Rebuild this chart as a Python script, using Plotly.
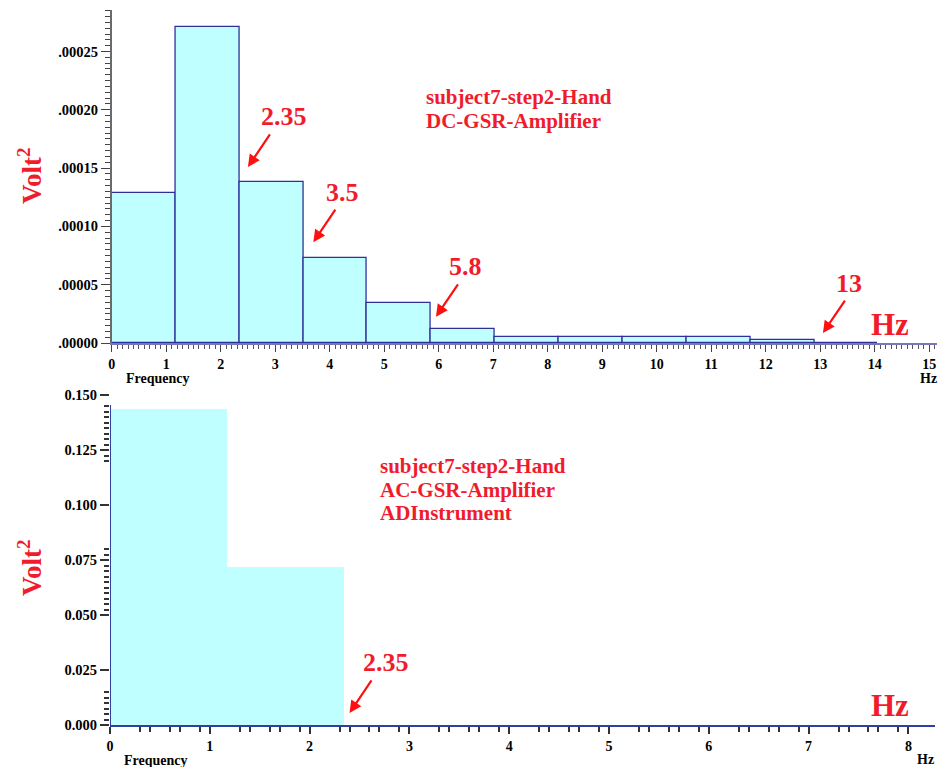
import plotly.graph_objects as go

# ---------------- data ----------------
BIN_WIDTH = 1.171875
dc_freq = [0.0, 1.171875, 2.34375, 3.515625, 4.6875, 5.859375, 7.03125,
           8.203125, 9.375, 10.546875, 11.71875, 12.890625]
dc_power = [0.000129, 0.000271, 0.000138, 0.0000726, 0.000034, 0.0000117,
            0.0000050, 0.0000050, 0.0000050, 0.0000050, 0.0000026, 0.0000004]

ac_freq = [0.0, 1.171875]
ac_power = [0.1436, 0.0717]

dc_yticks = [0.0, 0.00005, 0.00010, 0.00015, 0.00020, 0.00025]
ac_yticks = [0.0, 0.025, 0.050, 0.075, 0.100, 0.125, 0.150]
dc_xticks = list(range(0, 16))
ac_xticks = list(range(0, 9))

dc_labels = ["subject7-step2-Hand", "DC-GSR-Amplifier"]
ac_labels = ["subject7-step2-Hand", "AC-GSR-Amplifier", "ADInstrument"]
dc_marks = [("2.35", 2.5, 0.000151), ("3.5", 3.7, 0.0000865),
            ("5.8", 5.95, 0.0000225), ("13", 13.05, 0.0000085)]
ac_marks = [("2.35", 2.4, 0.0055)]

# ---------------- styling ----------------
W, H = 939, 767
SERIF = "Liberation Serif, Times New Roman, serif"
RED = "#f01c2c"
FILL = "#c0ffff"
EDGE = "#30309a"
NAVY = "#3040a0"

def px_x(p):
    return p / W

def px_y(p):
    return 1 - p / H

fig = go.Figure()

fig.add_trace(go.Bar(x=dc_freq, y=dc_power, width=BIN_WIDTH, offset=0,
                     marker=dict(color=FILL, line=dict(color=EDGE, width=1.3)),
                     xaxis="x", yaxis="y", showlegend=False))
fig.add_trace(go.Bar(x=ac_freq, y=ac_power, width=BIN_WIDTH, offset=0,
                     marker=dict(color=FILL, line=dict(width=0)),
                     xaxis="x2", yaxis="y2", showlegend=False))

xtickfont = dict(family=SERIF, size=14, color="black", weight="bold")
ytickfont = dict(family=SERIF, size=14.5, color="black", weight="bold")

def fmt_dc(v):
    return "." + f"{v:.5f}".split(".")[1]

top_x0, top_x1 = 111.7, 937.0
top_xr = (top_x1 - top_x0) / 54.5
top_yb, top_yt = 343.0, 10.0
top_yr = (top_yb - top_yt) / 58.3 * 0.00005

bot_x0, bot_x1 = 110.0, 935.0
bot_xr = (bot_x1 - bot_x0) / 99.8
bot_yb, bot_yt = 725.0, 395.0

dc_minor_y = [k * 0.000005 for k in range(1, 58) if k % 10 != 0]
ac_minor_y = [round(0.0025 * k, 4) for k in range(1, 59)
              if ((0.118 < 0.0025 * k < 0.146) or (0.052 < 0.0025 * k < 0.081)
                  or (0.0 < 0.0025 * k < 0.017)) and k % 10 != 0]
ac_minor_x = [k + f for k in range(0, 9) for f in (0.3, 0.4, 0.6, 0.7, 0.9)]

fig.update_layout(
    width=W, height=H, autosize=False, margin=dict(l=0, r=0, t=0, b=0, pad=0),
    paper_bgcolor="white", plot_bgcolor="white", bargap=0,
    xaxis=dict(domain=[px_x(top_x0), px_x(top_x1)], range=[0, top_xr],
               anchor="y", showgrid=False, zeroline=False, automargin=False,
               showline=True, linecolor="#7878b8", linewidth=1.5,
               tickmode="array", tickvals=dc_xticks, ticks="outside",
               ticklen=7, tickcolor="#444444", tickwidth=1.3,
               tickfont=xtickfont,
               minor=dict(dtick=0.1, tick0=0, ticks="outside", ticklen=4,
                          tickcolor="#555555", tickwidth=1)),
    yaxis=dict(domain=[px_y(top_yb), px_y(top_yt)], range=[0, top_yr],
               anchor="x", showgrid=False, zeroline=False, automargin=False,
               showline=True, linecolor="#6a6a6a", linewidth=1.5,
               tickmode="array", tickvals=dc_yticks,
               ticktext=[fmt_dc(v) for v in dc_yticks],
               ticks="outside", ticklen=9, tickcolor="#444444", tickwidth=1.3,
               tickfont=ytickfont,
               minor=dict(tickmode="array", tickvals=dc_minor_y,
                          ticks="outside", ticklen=5,
                          tickcolor="#444444", tickwidth=1.2)),
    xaxis2=dict(domain=[px_x(bot_x0), px_x(bot_x1)], range=[0, bot_xr],
                anchor="y2", showgrid=False, zeroline=False, automargin=False,
                showline=True, linecolor=NAVY, linewidth=2,
                tickmode="array", tickvals=ac_xticks, ticks="outside",
                ticklen=7, tickcolor="#333333", tickwidth=1.5,
                tickfont=xtickfont,
                minor=dict(tickmode="array", tickvals=ac_minor_x,
                           ticks="outside", ticklen=5, tickcolor="#333333",
                           tickwidth=1.5)),
    yaxis2=dict(domain=[px_y(bot_yb), px_y(bot_yt)], range=[0, 0.15],
                anchor="x2", showgrid=False, zeroline=False, showline=False,
                automargin=False,
                tickmode="array", tickvals=ac_yticks,
                ticktext=[f"{v:.3f}" for v in ac_yticks],
                ticks="outside", ticklen=9, tickcolor="#333333", tickwidth=1.5,
                tickfont=ytickfont,
                minor=dict(tickmode="array", tickvals=ac_minor_y,
                           ticks="outside", ticklen=5, tickcolor="#333333",
                           tickwidth=1.5)),
)

# bottom y axis line (stops just below the 0.150 label, as in the original)
fig.add_shape(type="line", xref="x2", yref="y2", x0=0, x1=0, y0=0, y1=0.1455,
              line=dict(color=NAVY, width=2))

ann = []

def txt(x, y, text, size, color, xanchor="center", angle=0):
    ann.append(dict(xref="paper", yref="paper", x=px_x(x), y=px_y(y),
                    xanchor=xanchor, yanchor="middle", text=text,
                    textangle=angle, showarrow=False,
                    font=dict(family=SERIF, size=size, color=color,
                              weight="bold")))

for yp in (176, 568):
    txt(30, yp, "Volt<sup>2</sup>", 27, RED, angle=-90)
txt(124, 378, "Frequency", 14, "black", xanchor="left")
txt(122, 760, "Frequency", 14, "black", xanchor="left")
txt(939, 378, "Hz", 14, "black", xanchor="right")
txt(936, 759, "Hz", 14, "black", xanchor="right")
txt(890, 324, "Hz", 31, RED)
txt(890, 705, "Hz", 31, RED)
for i, t in enumerate(dc_labels):
    txt(424, 97 + 23.5 * i, t, 21, RED, xanchor="left")
for i, t in enumerate(ac_labels):
    txt(378, 466 + 23.5 * i, t, 21, RED, xanchor="left")

def add_marks(marks, xr, yr):
    for t, xv, yv in marks:
        ann.append(dict(xref=xr, yref=yr, x=xv, y=yv, text="", showarrow=True,
                        ax=23, ay=-34, arrowhead=2, arrowsize=1.1,
                        arrowwidth=2.2, arrowcolor="#ff1010", standoff=0))
        ann.append(dict(xref=xr, yref=yr, x=xv, y=yv, text=t, showarrow=False,
                        xshift=11, yshift=50, xanchor="left", yanchor="middle",
                        font=dict(family=SERIF, size=26, color=RED,
                                  weight="bold")))

add_marks(dc_marks, "x", "y")
add_marks(ac_marks, "x2", "y2")

fig.update_layout(annotations=ann)
fig.write_html("out.html")
